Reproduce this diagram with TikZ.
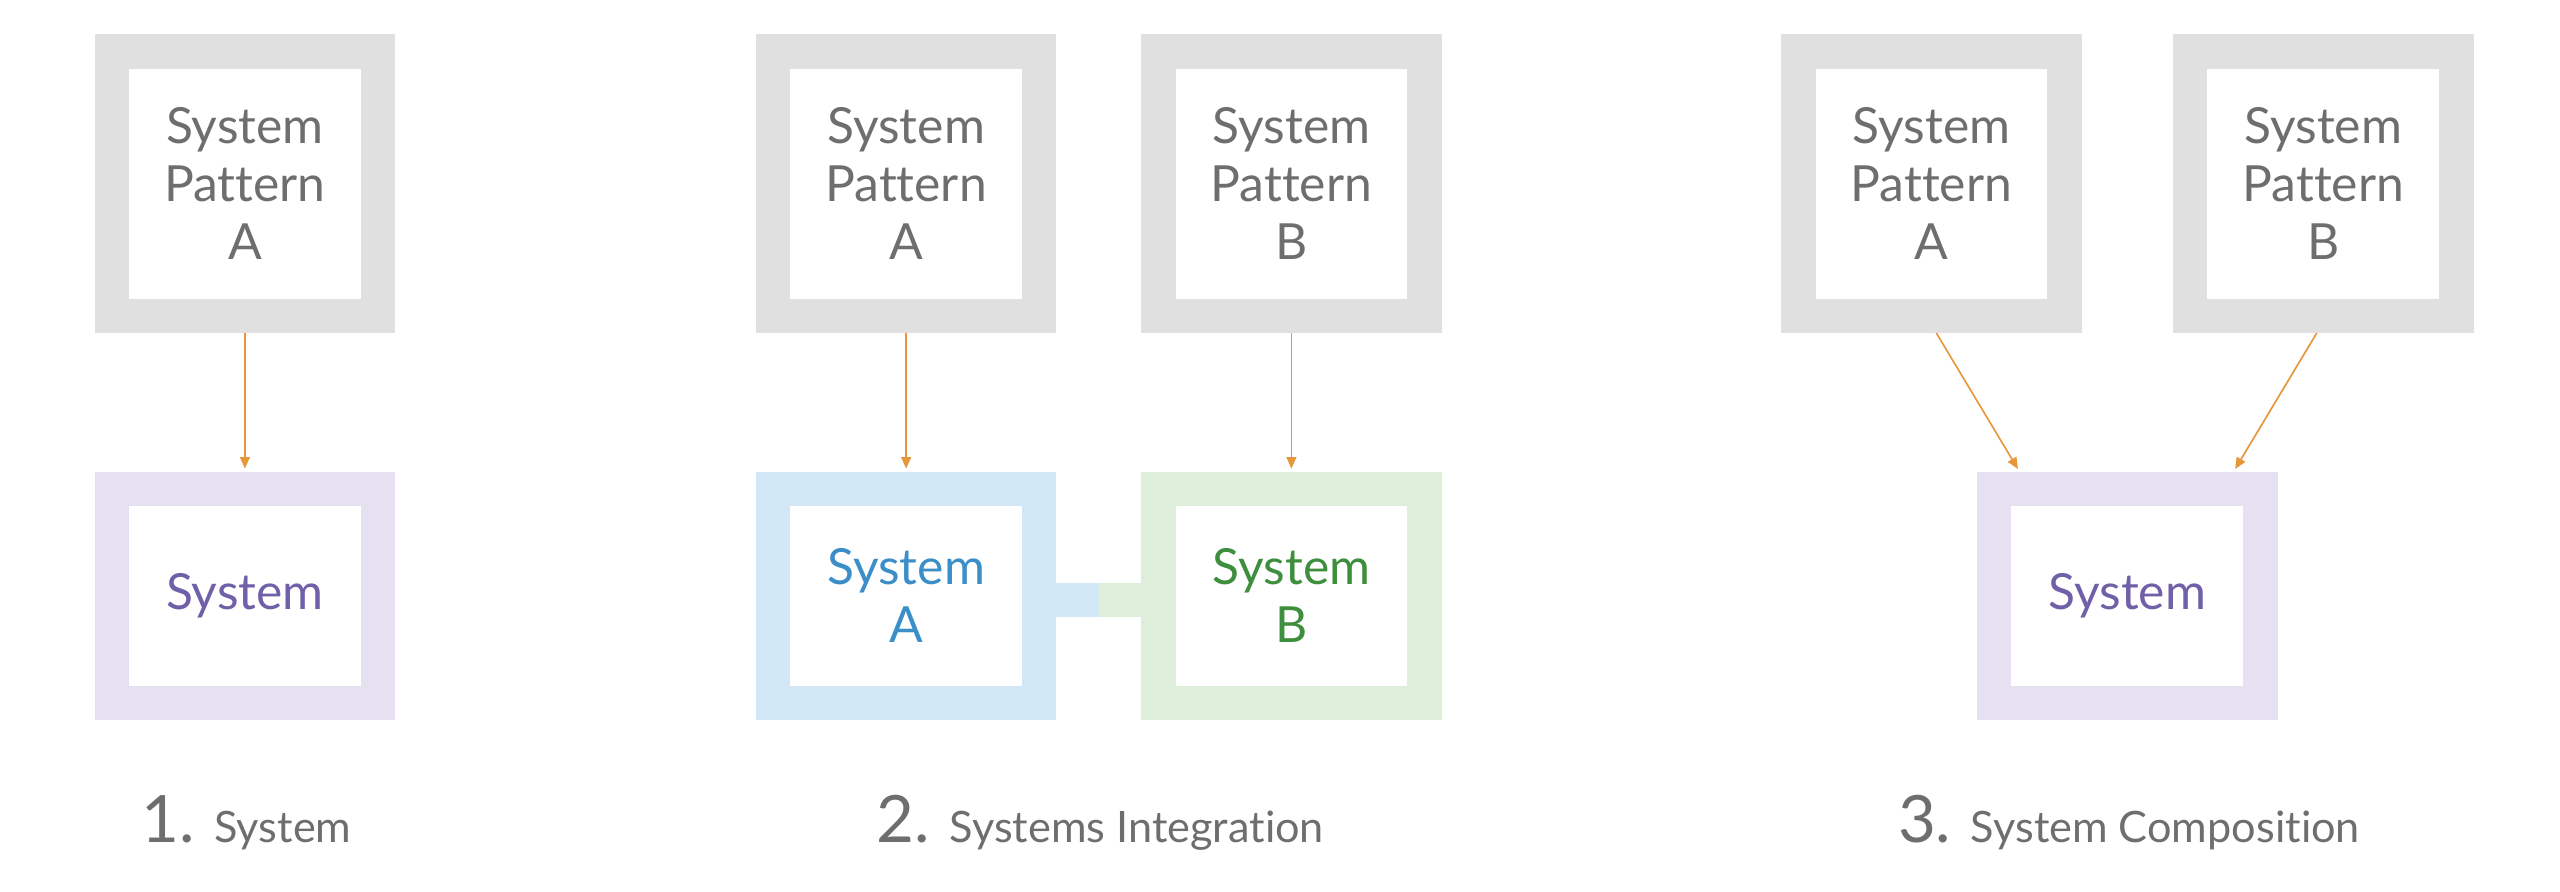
\documentclass[tikz,border=0pt]{standalone}
\usepackage{fontspec}
\usepackage{tikz}
\usetikzlibrary{positioning,arrows.meta,calc}
\newfontfamily\boxfont[Ligatures=NoCommon]{Lato}
\definecolor{patgray}{HTML}{E0E0E0}
\definecolor{txtgray}{HTML}{6E6E6E}
\definecolor{sysviolet}{HTML}{E5E1F0}
\definecolor{violettxt}{HTML}{7060A8}
\definecolor{sysblue}{HTML}{D3E8F6}
\definecolor{bluetxt}{HTML}{3B8EC8}
\definecolor{sysgreen}{HTML}{DEEEDB}
\definecolor{greentxt}{HTML}{3D8F3D}
\definecolor{arrorange}{HTML}{E8963A}

\begin{document}
\begin{tikzpicture}[
    x=1pt,y=1pt,
    framebox/.style={rectangle,draw=#1,line width=21pt,fill=white,
                     outer sep=10.5pt,inner sep=0pt,align=center,
                     font=\boxfont\fontsize{30.5}{35.5}\selectfont},
    pattern/.style={framebox=patgray,text=txtgray,
                    minimum width=163pt,minimum height=162pt},
    sysbox/.style={framebox=#1,minimum width=163pt,minimum height=131pt},
    bar/.style={line width=21pt,draw=#1},
    arrow/.style={-{Triangle[length=7pt,width=6pt]},line width=1pt,
                  draw=arrorange,shorten >=2pt},
    caption/.style={anchor=base,text=txtgray,
                    font=\boxfont\fontsize{26.5}{30}\selectfont},
]
    \useasboundingbox (0,0) rectangle (1568,546);

    % 1. system
    \node[pattern] (patA1) at (150,433.5) {System\\Pattern\\A};
    \node[sysbox=sysviolet,text=violettxt,below=85pt of patA1] (sys1) {System};
    \draw[arrow] (patA1) -- (sys1);
    \node[caption] (cap1) at (151,30) {{\fontsize{40}{44}\selectfont 1.}\hspace{12pt}System};

    % 2. systems integration
    \node[pattern] (patA2) at (555,433.5) {System\\Pattern\\A};
    \node[pattern,right=52pt of patA2] (patB2) {System\\Pattern\\B};
    \node[sysbox=sysblue,text=bluetxt,below=85pt of patA2] (sysA2) {System\\A};
    \node[sysbox=sysgreen,text=greentxt,below=85pt of patB2] (sysB2) {System\\B};
    \coordinate (bmid) at ($(sysA2.east)!0.5!(sysB2.west)$);
    \draw[bar=sysblue]  ([yshift=-2.5pt]sysA2.east) -- ([yshift=-2.5pt]bmid);
    \draw[bar=sysgreen] ([yshift=-2.5pt]bmid) -- ([yshift=-2.5pt]sysB2.west);
    \draw[arrow] (patA2) -- (sysA2);
    \draw[arrow] (patB2) -- (sysB2);
    \node[caption] (cap2) at (674,30) {{\fontsize{40}{44}\selectfont 2.}\hspace{12pt}Systems Integration};

    % 3. system composition
    \node[pattern] (patA3) at (1183,433.5) {System\\Pattern\\A};
    \node[pattern,right=56pt of patA3] (patB3) {System\\Pattern\\B};
    \coordinate (top3) at ($(patA3.south)!0.5!(patB3.south)$);
    \node[sysbox=sysviolet,text=violettxt,below=85pt of top3] (sys3) {System};
    \draw[arrow] ([xshift=3pt]patA3.south) -- ([xshift=-66pt]sys3.north);
    \draw[arrow] ([xshift=-4pt]patB3.south) -- ([xshift=65pt]sys3.north);
    \node[caption] (cap3) at (1304,30) {{\fontsize{40}{44}\selectfont 3.}\hspace{12pt}System Composition};
\end{tikzpicture}
\end{document}
